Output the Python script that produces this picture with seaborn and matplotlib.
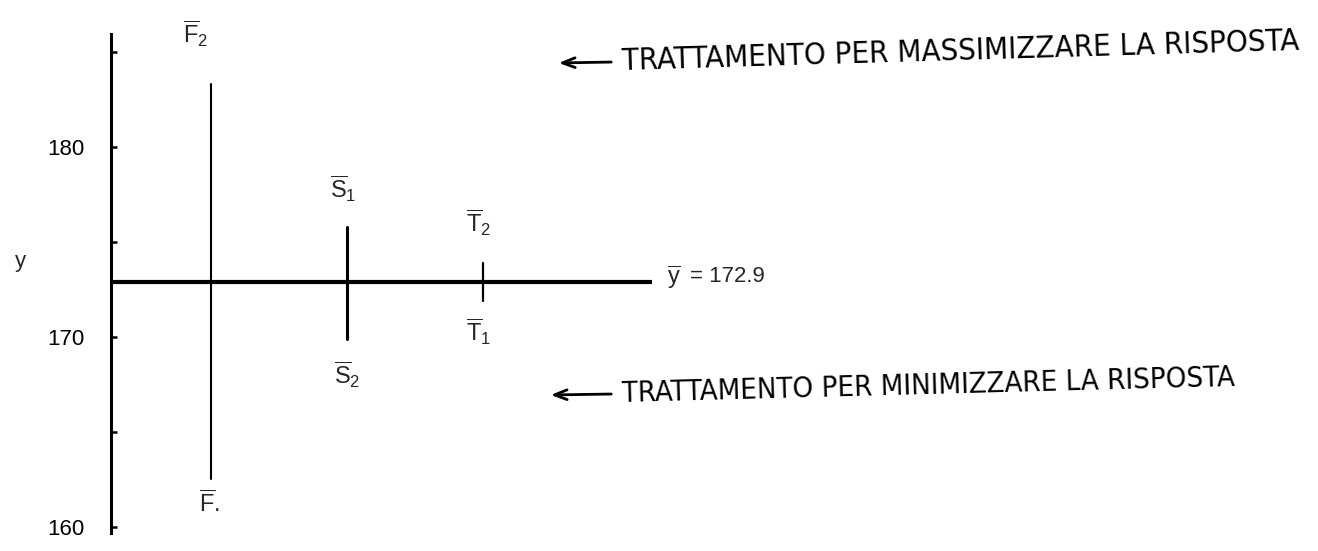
import numpy as np
import pandas as pd
import matplotlib
matplotlib.use("Agg")
import matplotlib.pyplot as plt
import seaborn as sns
from matplotlib import font_manager

# Mean response at each level of the three factors
factors = ["F", "S", "T"]
high_means = [183.3, 175.8, 173.9]   # F2, S1, T2
low_means = [162.5, 169.9, 171.9]    # F., S2, T1
high_labels = [r"$\overline{\mathrm{F}}_{2}$", r"$\overline{\mathrm{S}}_{1}$", r"$\overline{\mathrm{T}}_{2}$"]
low_labels = [r"$\overline{\mathrm{F}}$.", r"$\overline{\mathrm{S}}_{2}$", r"$\overline{\mathrm{T}}_{1}$"]
grand_mean = 172.9
y_ticks = [160, 165, 170, 175, 180, 185]
y_tick_labels = ["160", "", "170", "", "180", ""]
note_max = "TRATTAMENTO PER MASSIMIZZARE LA RISPOSTA"
note_min = "TRATTAMENTO PER MINIMIZZARE LA RISPOSTA"

sns.set_style("white")
ttf = font_manager.fontManager.ttflist
installed = {f.name for f in ttf}
base_font = "Liberation Sans" if "Liberation Sans" in installed else "DejaVu Sans"

# a narrow face suits the hand-lettered notes; fall back to the base font
hand_font, hand_stretch = base_font, "normal"
if "Liberation Sans Narrow" in installed:
    hand_font = "Liberation Sans Narrow"
else:
    for fam in ["DejaVu Sans", "Noto Sans", "Roboto", "Open Sans", "Lato", "Inter"]:
        if any(f.name == fam and f.stretch in ("condensed", "semi-condensed", "extra-condensed")
               and f.style == "normal" for f in ttf):
            hand_font, hand_stretch = fam, "condensed"
            break

plt.rcParams["font.family"] = [base_font, "DejaVu Sans"]
plt.rcParams["mathtext.fontset"] = "custom"
plt.rcParams["mathtext.rm"] = base_font
plt.rcParams["mathtext.it"] = base_font
plt.rcParams["mathtext.bf"] = base_font + ":bold"

W, H = 1318, 551
fig = plt.figure(figsize=(W / 100, H / 100), dpi=100)
fig.patch.set_facecolor("white")

# axes: spine at x=111 px, spanning 18..517 px measured from the bottom
ax_left, ax_bottom, ax_top = 111, 18, 517
ax = fig.add_axes([ax_left / W, ax_bottom / H, (W - ax_left) / W, (ax_top - ax_bottom) / H])
ax.set_facecolor("white")

px_per_unit_x = 136.0
x0 = 1 - 100 / px_per_unit_x
ax.set_xlim(x0, x0 + (W - ax_left) / px_per_unit_x)
ax.set_ylim(159.68, 185.95)

df = pd.DataFrame({
    "factor": factors * 2,
    "mean": high_means + low_means,
    "level": ["high"] * len(factors) + ["low"] * len(factors),
})
df["pos"] = df["factor"].map({f: i + 1 for i, f in enumerate(factors)})

line_widths = {"F": 1.5, "S": 2.2, "T": 1.6}
for f in factors:
    sns.lineplot(data=df[df["factor"] == f], x="pos", y="mean", estimator=None,
                 sort=True, color="black", lw=line_widths[f], ax=ax, legend=False)

# grand mean line
line_end = x0 + (652 - ax_left) / px_per_unit_x
ax.hlines(grand_mean, x0, line_end, color="black", lw=3.0, zorder=3)

# level labels
above_offsets = {"F": (-11, 30), "S": (-3, 21), "T": (-3, 22)}
below_offsets = {"F": (-1, -8), "S": (0, -15), "T": (-3, -11)}
for i, f in enumerate(factors):
    ax.annotate(high_labels[i], xy=(i + 1, high_means[i]), xytext=above_offsets[f],
                textcoords="offset points", ha="center", va="baseline", fontsize=17)
    ax.annotate(low_labels[i], xy=(i + 1, low_means[i]), xytext=below_offsets[f],
                textcoords="offset points", ha="center", va="top", fontsize=17)

ax.annotate(r"$\overline{\mathrm{y}}$", xy=(line_end, grand_mean), xytext=(11, -2),
            textcoords="offset points", ha="left", va="baseline", fontsize=17)
ax.annotate(f"= {grand_mean:.1f}", xy=(line_end, grand_mean), xytext=(27, 0),
            textcoords="offset points", ha="left", va="baseline", fontsize=16)

# axis styling
for side in ["top", "right", "bottom"]:
    ax.spines[side].set_visible(False)
ax.spines["left"].set_linewidth(2.2)
ax.spines["left"].set_color("black")
ax.set_xticks([])
ax.set_yticks(y_ticks)
ax.set_yticklabels(y_tick_labels)
ax.tick_params(axis="y", direction="in", length=4, width=1.8, pad=19,
               labelsize=16, colors="black", left=True)
ax.set_xlabel("")
ax.set_ylabel("y", rotation=0, fontsize=16, ha="center", va="center")
ax.yaxis.set_label_coords((20 - ax_left) / (W - ax_left),
                          ((H - 262) - ax_bottom) / (ax_top - ax_bottom))

# hand-lettered notes with arrows
renderer = fig.canvas.get_renderer()


def note(text, left_px, y_px, right_px, angle, arrow_tip_px):
    t = fig.text(left_px / W, 1 - y_px / H, text, family=hand_font, fontstretch=hand_stretch,
                 fontsize=20, ha="left", va="center", color="black")
    width = t.get_window_extent(renderer).width
    t.set_fontsize(20 * (right_px - left_px) / width)
    t.set_rotation(angle)
    t.set_rotation_mode("anchor")
    ax.annotate("", xy=(arrow_tip_px, H - y_px - 1), xytext=(left_px - 8, H - y_px),
                xycoords="figure pixels", textcoords="figure pixels",
                arrowprops=dict(arrowstyle="->,head_length=0.9,head_width=0.35",
                                lw=2.0, color="black"))


note(note_max, 622, 62, 1300, 1.7, 556)
note(note_min, 622, 394, 1235, 1.5, 548)

fig.savefig("out.png", dpi=100, facecolor="white")
